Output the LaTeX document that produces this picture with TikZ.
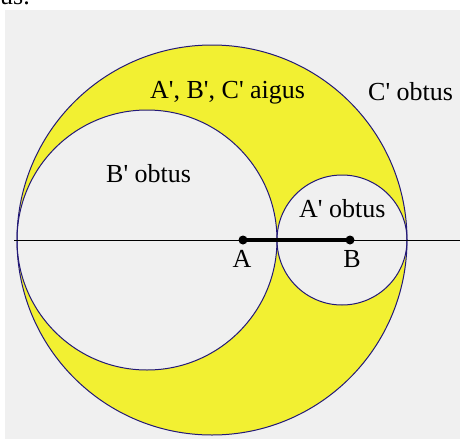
\documentclass[tikz,border=0pt]{standalone}
\usepackage{fontspec}
\newfontfamily\lbfont{Liberation Serif}
\definecolor{bg}{RGB}{240,240,240}
\definecolor{moon}{RGB}{242,240,50}
\definecolor{rim}{RGB}{35,25,120}
\tikzset{
  lbl/.style={font=\lbfont\fontsize{26}{30}\selectfont, inner sep=0pt, anchor=base west},
  ptlbl/.style={font=\lbfont\fontsize{26}{30}\selectfont, inner sep=0pt, anchor=base},
  rimline/.style={draw=rim, line width=1pt},
  axis/.style={draw=black, line width=1pt},
  seg/.style={draw=black, line width=4pt},
  dot/.style={fill=black}
}
\begin{document}
\begin{tikzpicture}[x=1pt,y=-1pt]
\useasboundingbox (0,0) rectangle (460,439);
\clip (0,0) rectangle (460,439);
\fill[white] (0,0) rectangle (460,439);
\fill[bg] (5,10) rectangle (460,439);
\node[lbl] (us) at (0,5) {us.};
% circles
\coordinate (O) at (212,240);
\coordinate (OL) at (147,240);
\coordinate (OR) at (342,240);
\fill[moon, even odd rule] (O) circle[radius=195pt] (OL) circle[radius=130pt] (OR) circle[radius=65pt];
\draw[rimline] (O) circle[radius=195pt];
\draw[rimline] (OL) circle[radius=130pt];
\draw[rimline] (OR) circle[radius=65pt];
% axis
\coordinate (L) at (14,240);
\coordinate (R) at (460,240);
\draw[axis] (L) -- (R);
% segment AB
\coordinate (A) at (243,240);
\coordinate (B) at (350,240);
\draw[seg] (A) -- (B);
\fill[dot] (A) circle[radius=4.5pt];
\fill[dot] (B) circle[radius=4.5pt];
% labels
\node[lbl] (aig) at (150,98) {A', B', C' aigus};
\node[lbl] (bob) at (106,182) {B' obtus};
\node[lbl] (aob) at (299,217) {A' obtus};
\node[lbl] (cob) at (368,100) {C' obtus};
\node[ptlbl] (la) at (242,267) {A};
\node[ptlbl] (lb) at (352,267) {B};
\end{tikzpicture}
\end{document}
